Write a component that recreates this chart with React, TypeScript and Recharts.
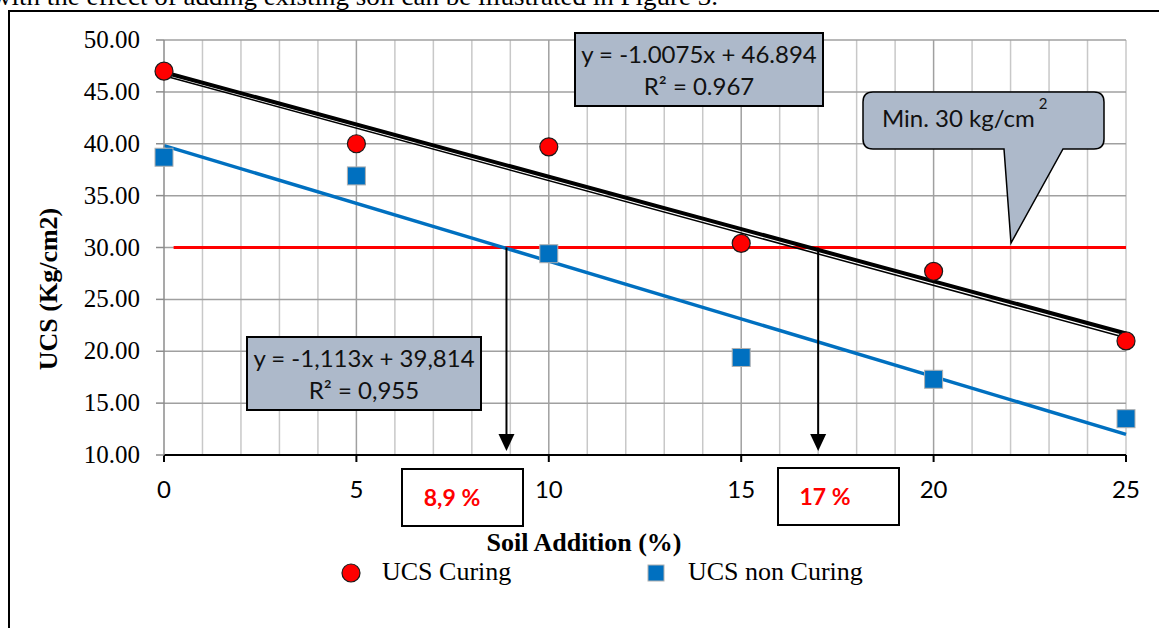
import React from 'react';
import {
  ComposedChart,
  Line,
  Scatter,
  XAxis,
  YAxis,
  CartesianGrid,
  ReferenceLine,
  Legend,
} from 'recharts';

// ---------- data ----------
const soilAddition = [0, 5, 10, 15, 20, 25];
const ucsCuring = [47.0, 40.0, 39.7, 30.4, 27.7, 21.0];
const ucsNonCuring = [38.7, 36.9, 29.4, 19.4, 17.3, 13.5];

const trendX = [0, 25];
const curingTrend = [46.894, 21.707];
const curingTrendAlt = [46.55, 21.3];
const nonCuringTrend = [39.814, 11.989];

const minLimit = 30;
const limitX = [0.25, 25];
const intersections = [8.9, 17];
const axisMin = 10;

const xDomain = [0, 25];
const yDomain = [10, 50];
const xTicks = [0, 5, 10, 15, 20, 25];
const yTicks = [10, 15, 20, 25, 30, 35, 40, 45, 50];
const minorGridX = [1, 2, 3, 4, 6, 7, 8, 9, 11, 12, 13, 14, 16, 17, 18, 19, 21, 22, 23, 24, 25];
const majorGridX = [5, 10, 15, 20];

const seriesNames = ['UCS Curing', 'UCS non Curing'];
const curingEq = ['y = -1.0075x + 46.894', 'R\u00B2 = 0.967'];
const nonCuringEq = ['y = -1,113x + 39,814', 'R\u00B2 = 0,955'];
const minLabel = 'Min. 30 kg/cm';
const pctLabels = ['8,9 %', '17 %'];
const topText = 'with the effect of adding existing soil can be illustrated in Figure 3.';

// ---------- helpers ----------
const toPts = (xs: number[], ys: number[]) => xs.map((x, i) => ({ x, y: ys[i] }));
const curingData = toPts(soilAddition, ucsCuring);
const nonCuringData = toPts(soilAddition, ucsNonCuring);

const SERIF = '"Liberation Serif", "Times New Roman", serif';
const SANS = 'Lato, "Open Sans", sans-serif';
const BOX_FILL = '#ADB9CA';

const XTick = (props: any) => {
  const { x, y, payload } = props;
  return (
    <text x={x} y={y} dy={34} textAnchor="middle" fontFamily={SANS} fontSize={24} fill="#000">
      {payload.value}
    </text>
  );
};

const YTick = (props: any) => {
  const { x, y, payload } = props;
  return (
    <text x={x} y={y} dy={8} textAnchor="end" fontFamily={SERIF} fontSize={25} fill="#000">
      {Number(payload.value).toFixed(2)}
    </text>
  );
};

const CircleShape = (props: any) => {
  const { cx, cy } = props;
  if (cx == null || cy == null) return <g />;
  return <circle cx={cx} cy={cy} r={9} fill="#FF0000" stroke="#1a1a1a" strokeWidth={1.2} />;
};

const SquareShape = (props: any) => {
  const { cx, cy } = props;
  if (cx == null || cy == null) return <g />;
  return <rect x={cx - 9} y={cy - 9} width={18} height={18} fill="#0070C0" stroke="#b0b0b0" strokeWidth={1} />;
};

const ArrowShape = (p: any) => {
  const { x1, y1, y2 } = p;
  const top = Math.min(y1, y2);
  const tip = Math.max(y1, y2) - 4;
  return (
    <g>
      <line x1={x1} y1={top} x2={x1} y2={tip - 12} stroke="#000" strokeWidth={2} />
      <polygon points={`${x1 - 8},${tip - 17} ${x1 + 8},${tip - 17} ${x1},${tip}`} fill="#000" />
    </g>
  );
};

const scaleX = (args: any, v: number) => {
  const ax = args && args.xAxis;
  if (ax && typeof ax.scale === 'function') return ax.scale(v);
  const off = args.offset;
  return off.left + ((v - xDomain[0]) / (xDomain[1] - xDomain[0])) * off.width;
};
const minorGen = (args: any) => minorGridX.map((v) => scaleX(args, v));
const majorGen = (args: any) => majorGridX.map((v) => scaleX(args, v));

const LegendContent = () => (
  <div style={{ position: 'relative', width: 1159, height: 30, fontFamily: SERIF, fontSize: 26, color: '#000' }}>
    <svg style={{ position: 'absolute', left: 340, top: 4 }} width={22} height={22}>
      <circle cx={11} cy={11} r={9} fill="#FF0000" stroke="#1a1a1a" strokeWidth={1.2} />
    </svg>
    <span style={{ position: 'absolute', left: 382, top: -1, whiteSpace: 'nowrap', lineHeight: '30px' }}>{seriesNames[0]}</span>
    <svg style={{ position: 'absolute', left: 646, top: 5 }} width={20} height={20}>
      <rect x={2} y={2} width={16} height={16} fill="#0070C0" stroke="#b0b0b0" strokeWidth={1} />
    </svg>
    <span style={{ position: 'absolute', left: 688, top: -1, whiteSpace: 'nowrap', lineHeight: '30px' }}>{seriesNames[1]}</span>
  </div>
);

const YLabel = (props: any) => {
  const vb = props.viewBox || { x: 0, y: 40, width: 164, height: 415 };
  const cx = 48;
  const cy = vb.y + vb.height * 0.6;
  return (
    <text
      x={cx}
      y={cy}
      transform={`rotate(-90 ${cx} ${cy})`}
      textAnchor="middle"
      dominantBaseline="central"
      fontFamily={SERIF}
      fontWeight="bold"
      fontSize={26}
      fill="#000"
    >
      UCS (Kg/cm2)
    </text>
  );
};

const XLabel = (props: any) => {
  const vb = props.viewBox || { x: 164, y: 455, width: 962, height: 40 };
  const cx = vb.x + vb.width / 2 - 61;
  const cy = vb.y + 96;
  return (
    <text x={cx} y={cy} textAnchor="middle" fontFamily={SERIF} fontWeight="bold" fontSize={26} fill="#000">
      Soil Addition (%)
    </text>
  );
};

const EqBox = ({ x, y, w, h, lines }: { x: number; y: number; w: number; h: number; lines: string[] }) => (
  <g>
    <rect x={x} y={y} width={w} height={h} fill={BOX_FILL} stroke="#000" strokeWidth={2} />
    <text x={x + w / 2} y={y + 30} textAnchor="middle" fontFamily={SANS} fontSize={24} fill="#111">
      {lines[0]}
    </text>
    <text x={x + w / 2} y={y + 62} textAnchor="middle" fontFamily={SANS} fontSize={24} fill="#111">
      {lines[1]}
    </text>
  </g>
);

const PctBox = ({ x, y, w, h, tx, label }: { x: number; y: number; w: number; h: number; tx: number; label: string }) => (
  <g>
    <rect x={x} y={y} width={w} height={h} fill="#fff" stroke="#000" strokeWidth={2} />
    <text x={tx} y={y + h / 2 + 8} textAnchor="middle" fontFamily={SANS} fontWeight="bold" fontSize={23} fill="#FF0000">
      {label}
    </text>
  </g>
);

export default function App() {
  return (
    <div style={{ position: 'fixed', left: 0, top: 0, width: 1159, height: 628, background: '#fff', overflow: 'hidden' }}>
      <ComposedChart width={1159} height={628} margin={{ top: 40, right: 33, left: 0, bottom: 133 }}>
        <CartesianGrid horizontal={false} vertical stroke="#c8c8c8" strokeWidth={1.5} verticalCoordinatesGenerator={minorGen} />
        <CartesianGrid horizontal vertical stroke="#a0a0a0" strokeWidth={1.5} verticalCoordinatesGenerator={majorGen} />
        <XAxis
          type="number"
          dataKey="x"
          domain={xDomain}
          ticks={xTicks}
          height={40}
          tickSize={7}
          tickMargin={2}
          axisLine={{ stroke: '#000', strokeWidth: 2 }}
          tickLine={{ stroke: '#000', strokeWidth: 2 }}
          tick={<XTick />}
          label={<XLabel />}
          interval={0}
        />
        <YAxis
          type="number"
          dataKey="y"
          domain={yDomain}
          ticks={yTicks}
          width={164}
          tickSize={8}
          tickMargin={16}
          axisLine={{ stroke: '#8c8c8c', strokeWidth: 1.5 }}
          tickLine={{ stroke: '#8c8c8c', strokeWidth: 1.5 }}
          tick={<YTick />}
          label={<YLabel />}
          interval={0}
        />
        <ReferenceLine
          segment={[{ x: limitX[0], y: minLimit }, { x: limitX[1], y: minLimit }]}
          stroke="#FF0000"
          strokeWidth={3}
          ifOverflow="visible"
        />
        <Line
          data={toPts(trendX, nonCuringTrend)}
          dataKey="y"
          type="linear"
          stroke="#0070C0"
          strokeWidth={3.5}
          dot={false}
          activeDot={false}
          legendType="none"
          isAnimationActive={false}
        />
        <Line
          data={toPts(trendX, curingTrendAlt)}
          dataKey="y"
          type="linear"
          stroke="#000"
          strokeWidth={1.5}
          dot={false}
          activeDot={false}
          legendType="none"
          isAnimationActive={false}
        />
        <Line
          data={toPts(trendX, curingTrend)}
          dataKey="y"
          type="linear"
          stroke="#000"
          strokeWidth={4}
          dot={false}
          activeDot={false}
          legendType="none"
          isAnimationActive={false}
        />
        <Scatter name={seriesNames[0]} data={curingData} shape={CircleShape} isAnimationActive={false} />
        <Scatter name={seriesNames[1]} data={nonCuringData} shape={SquareShape} isAnimationActive={false} />
        {intersections.map((v) => (
          <ReferenceLine
            key={v}
            segment={[{ x: v, y: minLimit }, { x: v, y: axisMin }]}
            stroke="#000"
            ifOverflow="visible"
            shape={ArrowShape}
          />
        ))}
        <Legend
          layout="horizontal"
          verticalAlign="middle"
          align="center"
          wrapperStyle={{ top: 558, left: 0, width: 1159, height: 30 }}
          content={<LegendContent />}
        />
      </ComposedChart>
      <svg
        width={1159}
        height={628}
        style={{ position: 'absolute', left: 0, top: 0, pointerEvents: 'none' }}
      >
        <text x={-8} y={5} fontFamily={SERIF} fontSize={26} fill="#000" textLength={726} lengthAdjust="spacingAndGlyphs">
          {topText}
        </text>
        <line x1={9} y1={11} x2={1159} y2={11} stroke="#000" strokeWidth={2} />
        <line x1={9} y1={10} x2={9} y2={628} stroke="#000" strokeWidth={2} />
        <EqBox x={575} y={33} w={248} h={73} lines={curingEq} />
        <EqBox x={247} y={337} w={234} h={73} lines={nonCuringEq} />
        <path
          d="M 873 92 H 1094 Q 1104 92 1104 102 V 139 Q 1104 149 1094 149 H 1063 L 1011 243 L 1004 149 H 873 Q 863 149 863 139 V 102 Q 863 92 873 92 Z"
          fill={BOX_FILL}
          stroke="#000"
          strokeWidth={1.5}
        />
        <text x={882} y={127} fontFamily={SANS} fontSize={24} fill="#111">
          {minLabel}
        </text>
        <text x={1043} y={109} textAnchor="middle" fontFamily={SANS} fontSize={15} fill="#111">
          2
        </text>
        <PctBox x={402} y={469} w={121} h={57} tx={452} label={pctLabels[0]} />
        <PctBox x={778} y={468} w={121} h={57} tx={825} label={pctLabels[1]} />
      </svg>
    </div>
  );
}
